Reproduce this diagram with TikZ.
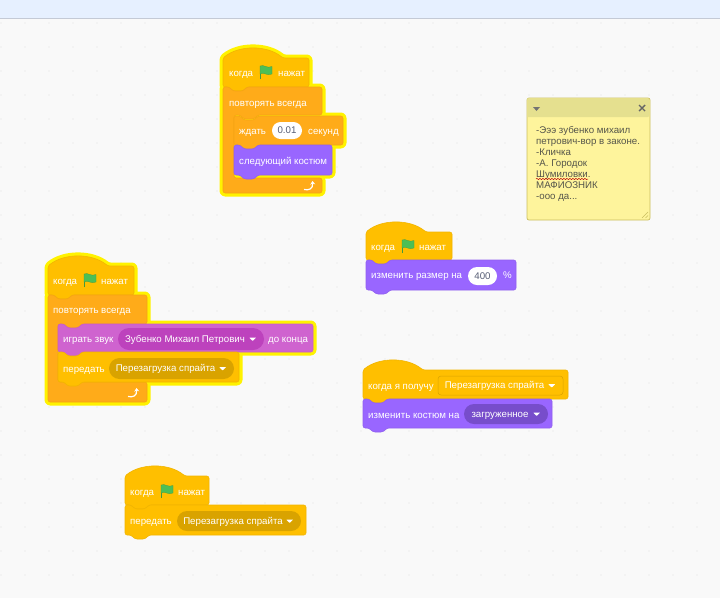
\documentclass[tikz,border=0pt]{standalone}
\usepackage{fontspec}
\setmainfont{Liberation Sans}
\usetikzlibrary{arrows.meta,calc,shapes.misc,decorations.pathmorphing}

\definecolor{pagebg}{HTML}{F9F9F9}
\definecolor{barbg}{HTML}{E6F0FF}
\definecolor{barline}{HTML}{C4CAD6}
\definecolor{griddot}{HTML}{EDEDED}
\definecolor{glowcol}{HTML}{FFF200}
\definecolor{ctrlcol}{HTML}{FFAB19}
\definecolor{ctrledge}{HTML}{F5A414}
\definecolor{evtcol}{HTML}{FFBF00}
\definecolor{evtedge}{HTML}{F2B500}
\definecolor{evtdark}{HTML}{D9A300}
\definecolor{lookcol}{HTML}{9966FF}
\definecolor{lookedge}{HTML}{9160F0}
\definecolor{lookdark}{HTML}{774DCB}
\definecolor{sndcol}{HTML}{CF63CF}
\definecolor{sndedge}{HTML}{C85CC8}
\definecolor{snddark}{HTML}{BD42BD}
\definecolor{inktext}{HTML}{575E75}
\definecolor{notebody}{HTML}{FEF49C}
\definecolor{notehead}{HTML}{E5E08F}
\definecolor{noteedge}{HTML}{C9BE5F}
\definecolor{notetext}{HTML}{55554A}
\definecolor{flagfill}{HTML}{4CBF56}
\definecolor{flagedge}{HTML}{45993D}

\tikzset{
  blockline/.style={rounded corners=2.2pt, line width=0.6pt},
  glowline/.style={blockline, draw=glowcol, line width=7pt, line join=round},
  ctrlblock/.style={blockline, fill=ctrlcol, draw=ctrledge},
  evtblock/.style={blockline, fill=evtcol, draw=evtedge},
  lookblock/.style={blockline, fill=lookcol, draw=lookedge},
  sndblock/.style={blockline, fill=sndcol, draw=sndedge},
  blocktext/.style={text=white, anchor=west, inner sep=0pt, text height=7.5pt, text depth=1.5pt,
    font=\fontsize{9.7}{11}\selectfont},
  pill/.style={rounded rectangle, inner sep=0pt, text=white, text height=7.5pt, text depth=1.5pt,
    font=\fontsize{9.7}{11}\selectfont},
  whitepill/.style={pill, fill=white, text=inktext},
  menufield/.style={rectangle, rounded corners=3pt, inner sep=0pt, text=white, text height=7.5pt,
    text depth=1.5pt, font=\fontsize{9.7}{11}\selectfont},
  flagpole/.style={draw=flagedge, line width=0.8pt},
  flagcloth/.style={fill=flagfill, draw=flagedge, line width=0.25pt},
}

% style, left, top, right, bottom
\newcommand{\hatblock}[5]{
  \path[#1] (#2,#3) .. controls ({#2+16},{#3-13}) and ({#2+44},{#3-13}) .. ({#2+60},#3)
    -- (#4,#3) -- (#4,#5) -- ({#2+24},#5) -- ({#2+20},{#5+4}) -- ({#2+10},{#5+4})
    -- ({#2+6},#5) -- (#2,#5) -- cycle;
}
% style, left, top, right, bottom
\newcommand{\stackblock}[5]{
  \path[#1] (#2,#3) -- ({#2+6},#3) -- ({#2+10},{#3+4}) -- ({#2+20},{#3+4}) -- ({#2+24},#3)
    -- (#4,#3) -- (#4,#5) -- ({#2+24},#5) -- ({#2+20},{#5+4}) -- ({#2+10},{#5+4})
    -- ({#2+6},#5) -- (#2,#5) -- cycle;
}
% style, left, top, right, inner left, arm top, arm bottom, bottom
\newcommand{\loopblock}[8]{
  \path[#1] (#2,#3) -- ({#2+6},#3) -- ({#2+10},{#3+4}) -- ({#2+20},{#3+4}) -- ({#2+24},#3)
    -- (#4,#3) -- (#4,#6) -- ({#5+24},#6) -- ({#5+20},{#6+4}) -- ({#5+10},{#6+4}) -- ({#5+6},#6)
    -- (#5,#6) -- (#5,#7) -- (#4,#7) -- (#4,#8) -- (#2,#8) -- cycle;
}
% left, middle height
\newcommand{\greenflag}[2]{
  \draw[flagpole] ({#1+1},{#2+7}) -- ({#1+1},{#2-6.5});
  \path[flagcloth] ({#1+1},{#2-6}) .. controls ({#1+5},{#2-8}) and ({#1+8},{#2-3}) .. ({#1+13},{#2-5.5})
    -- ({#1+13},{#2+2}) .. controls ({#1+8},{#2+4.5}) and ({#1+5},{#2-0.5}) .. ({#1+1},{#2+2}) -- cycle;
}
% centre of the arrow
\newcommand{\looparrow}[2]{
  \draw[white, line width=1.2pt, -{Stealth[length=3.5pt,width=5pt]}] ({#1-6},{#2+3.5})
    .. controls ({#1-1},{#2+4.5}) and ({#1+3},{#2+3}) .. ({#1+2.5},{#2-5});
}
% name of the menu
\newcommand{\menucaret}[1]{
  \fill[white, rounded corners=0.5pt] ($(#1.east)+(-15,-1.5)$) -- ($(#1.east)+(-8,-1.5)$)
    -- ($(#1.east)+(-11.5,2)$) -- cycle;
}

\begin{document}
\begin{tikzpicture}[x=1pt, y=-1pt]
    \useasboundingbox (0,0) rectangle (720,598);
    \fill[pagebg] (0,0) rectangle (720,598);

    % Top bar
    \fill[barbg] (0,0) rectangle (720,18);
    \draw[barline, line width=0.8pt] (0,18) -- (720,18);

    % Dots of the workspace
    \foreach \i in {0,...,30} {
        \foreach \j in {1,...,24} {
            \fill[griddot] ({\i*24+1},{\j*24-1}) circle (0.9);
        }
    }

    % Glow of the two running stacks
    \hatblock{glowline}{223}{58}{309}{87}
    \loopblock{glowline}{223}{87}{322}{234}{115}{178}{193}
    \stackblock{glowline}{234}{116}{343}{145}
    \stackblock{glowline}{234}{145}{332}{175}
    \hatblock{glowline}{48}{266}{134}{295}
    \loopblock{glowline}{48}{295}{147}{58}{324}{382}{402}
    \stackblock{glowline}{58}{324}{313}{352}
    \stackblock{glowline}{58}{352}{239}{382}

    % Stack at the top
    \hatblock{evtblock}{223}{58}{309}{87}
    \node[blocktext] (whenA) at (229,73) {когда};
    \greenflag{259}{72}
    \node[blocktext] (clickedA) at (278,73) {нажат};
    \loopblock{ctrlblock}{223}{87}{322}{234}{115}{178}{193}
    \node[blocktext] (foreverA) at (229,103) {повторять всегда};
    \stackblock{ctrlblock}{234}{116}{343}{145}
    \node[blocktext] (waitA) at (239,131) {ждать};
    \node[whitepill, minimum width=30pt, minimum height=17pt] (waitval) at (287,130.5) {0.01};
    \node[blocktext] (waitB) at (308,131) {секунд};
    \stackblock{lookblock}{234}{145}{332}{175}
    \node[blocktext] (nextcostume) at (239,161) {следующий костюм};
    \looparrow{310}{186}

    % Stack on the left
    \hatblock{evtblock}{48}{266}{134}{295}
    \node[blocktext] (whenB) at (53,281) {когда};
    \greenflag{83}{280}
    \node[blocktext] (clickedB) at (101,281) {нажат};
    \loopblock{ctrlblock}{48}{295}{147}{58}{324}{382}{402}
    \node[blocktext] (foreverB) at (53,310) {повторять всегда};
    \stackblock{sndblock}{58}{324}{313}{352}
    \node[blocktext] (playA) at (63,339) {играть звук};
    \node[pill, fill=snddark, minimum width=146pt, minimum height=22pt] (soundmenu) at (191,339) {Зубенко Михаил Петрович\kern12pt};
    \menucaret{soundmenu}
    \node[blocktext] (playB) at (268,339) {до конца};
    \stackblock{evtblock}{58}{352}{239}{382}
    \node[blocktext] (sendB) at (63,369) {передать};
    \node[pill, fill=evtdark, minimum width=125pt, minimum height=21pt] (sendmenuB) at (171.5,368.5) {Перезагрузка спрайта\kern12pt};
    \menucaret{sendmenuB}
    \looparrow{134}{393}

    % Stack at the bottom
    \hatblock{evtblock}{125}{476}{209}{505}
    \node[blocktext] (whenC) at (130,492) {когда};
    \greenflag{160}{491}
    \node[blocktext] (clickedC) at (178,492) {нажат};
    \stackblock{evtblock}{125}{505}{306}{535}
    \node[blocktext] (sendC) at (130,521) {передать};
    \node[pill, fill=evtdark, minimum width=124pt, minimum height=20pt] (sendmenuC) at (239,521) {Перезагрузка спрайта\kern12pt};
    \menucaret{sendmenuC}

    % Stack with the size
    \hatblock{evtblock}{366}{232}{452}{260}
    \node[blocktext] (whenD) at (371,247) {когда};
    \greenflag{401}{246}
    \node[blocktext] (clickedD) at (419,247) {нажат};
    \stackblock{lookblock}{366}{260}{516}{290}
    \node[blocktext] (sizeA) at (371,275) {изменить размер на};
    \node[whitepill, minimum width=29pt, minimum height=18pt] (sizeval) at (482.5,276) {400};
    \node[blocktext] (sizeB) at (503,275) {\%};

    % Stack with the message
    \hatblock{evtblock}{363}{370}{568}{399}
    \node[blocktext] (receive) at (368,386) {когда я получу};
    \node[menufield, fill=evtcol, draw=evtdark, line width=0.5pt, minimum width=125pt, minimum height=19pt] (recvmenu) at (500.5,385.5) {Перезагрузка спрайта\kern12pt};
    \menucaret{recvmenu}
    \stackblock{lookblock}{363}{399}{552}{428}
    \node[blocktext] (costume) at (368,415) {изменить костюм на};
    \node[pill, fill=lookdark, minimum width=84pt, minimum height=20pt] (costmenu) at (506,414) {загруженное\kern12pt};
    \menucaret{costmenu}

    % Sticky note
    \draw[rounded corners=2pt, fill=notebody, draw=noteedge, line width=0.7pt] (527,98) rectangle (650,220);
    \path[rounded corners=2pt, fill=notehead] (527.4,98.4) -- (649.6,98.4) -- (649.6,117) [sharp corners] -- (527.4,117) -- cycle;
    \fill[black!55] (533,107) -- (540,107) -- (536.5,111) -- cycle;
    \draw[black!60, line width=1.4pt] (639,105) -- (645,111) (645,105) -- (639,111);
    \node[anchor=north west, inner sep=0pt, align=left, text=notetext, font=\fontsize{9.7}{11}\selectfont] (notetext) at (536,126.5)
        {-Эээ зубенко михаил\\петрович-вор в законе.\\-Кличка\\-А. Городок\\Шумиловки.\\МАФИОЗНИК\\-ооо да...};
    \draw[red!75!black, line width=0.5pt, decorate, decoration={snake, amplitude=0.6pt, segment length=3pt}] (536,179) -- (588,179);
    \draw[noteedge, line width=0.6pt] (642,218) -- (648,212) (645.5,218) -- (648,215.5);
\end{tikzpicture}
\end{document}
